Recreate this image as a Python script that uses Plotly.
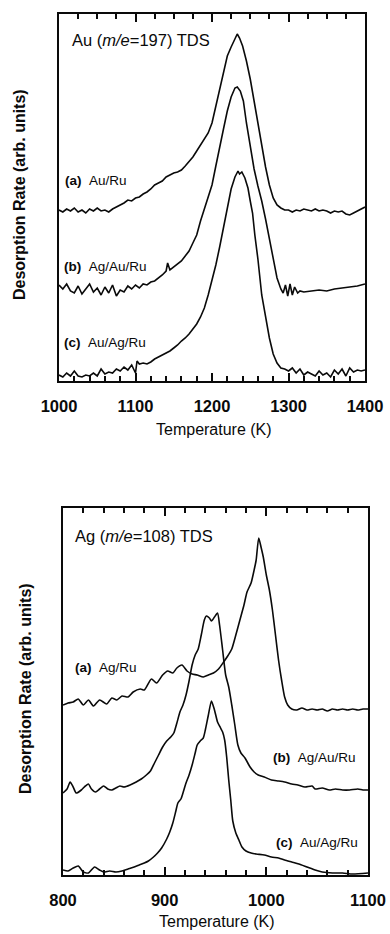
import plotly.graph_objects as go

# ---------------- Top panel: Au (m/e=197) TDS ----------------
au_a_T = [1000,1005,1010,1015,1020,1025,1030,1035,1040,1045,1050,1055,1060,1065,1070,1075,1080,1085,1090,1095,
          1100,1105,1110,1115,1120,1125,1130,1135,1140,1145,1150,1155,1160,1165,1170,1175,1180,1185,1190,1195,
          1200,1205,1210,1215,1220,1225,1230,1233,1236,1240,1245,1250,1255,1260,1265,1270,1275,1280,1285,1290,
          1295,1300,1305,1310,1315,1320,1325,1330,1335,1340,1345,1350,1355,1360,1365,1370,1375,1380,1385,1390,1395,1400]
au_a_v = [171,169,172,170,173,169,171,168,172,170,173,170,171,169,172,174,176,178,181,180,
          183,184,187,189,192,196,198,200,204,206,208,209,211,215,219,224,230,236,242,248,
          258,275,293,311,325,334,343,347,343,335,320,302,280,258,234,214,196,183,176,173,
          171,171,169,171,170,172,171,170,172,170,171,170,168,170,169,170,167,166,168,170,172,174]

au_b_T = [1000,1005,1010,1015,1020,1025,1030,1035,1040,1045,1050,1055,1060,1065,1070,1075,1080,1085,1090,1095,
          1100,1105,1110,1115,1120,1125,1130,1135,1140,1142,1145,1150,1155,1160,1165,1170,1175,1180,1185,1190,
          1195,1200,1205,1210,1215,1220,1225,1230,1233,1237,1241,1245,1250,1255,1260,1265,1270,1275,1280,1285,
          1290,1293,1296,1299,1302,1305,1308,1312,1315,1320,1330,1340,1350,1360,1370,1380,1390,1400]
au_b_v = [96,92,97,90,88,95,87,92,97,89,93,86,94,88,96,85,91,89,95,92,
          96,93,97,96,99,100,103,106,110,118,111,114,117,120,125,130,138,146,160,172,
          183,196,215,235,252,270,284,293,294,290,280,258,235,212,195,180,162,142,120,103,
          92,88,96,85,97,86,94,88,90,89,90,91,90,92,93,94,95,97]

au_c_T = [1000,1005,1010,1015,1020,1025,1030,1035,1040,1045,1050,1055,1060,1065,1070,1075,1080,1085,1090,1095,
          1100,1102,1105,1110,1115,1120,1125,1130,1135,1140,1145,1150,1155,1160,1165,1170,1175,1180,1185,1190,
          1195,1200,1205,1210,1215,1220,1225,1230,1234,1236,1239,1243,1247,1250,1253,1256,1260,1265,1270,1275,
          1280,1285,1290,1295,1300,1305,1310,1315,1320,1325,1330,1335,1340,1345,1350,1355,1360,1365,1370,1375,
          1380,1385,1390,1395,1400]
au_c_v = [6,4,8,5,10,5,4,6,5,8,5,12,7,9,8,12,10,14,11,16,
          8,20,17,18,17,19,22,24,26,28,30,33,36,40,43,47,52,57,64,73,
          86,100,116,134,153,173,192,204,210,207,209,203,193,180,168,146,122,86,63,43,
          27,18,13,12,10,13,8,12,6,9,7,5,10,6,8,4,11,7,12,5,
          13,9,11,10,11]

# ---------------- Bottom panel: Ag (m/e=108) TDS ----------------
ag_a_T = [800,805,810,815,820,825,830,836,843,848,853,858,864,869,876,880,887,892,898,903,
          908,912,917,922,927,932,938,943,948,953,958,962,966,970,974,978,981,985,988,990,
          992.5,995,997,1000,1003,1006,1009,1012,1015,1018,1021,1025,1030,1035,1040,1045,1050,1055,1060,1065,
          1070,1075,1080,1085,1090,1095,1100]
ag_a_v = [170,172,173,176,170,175,169,175,171,177,175,179,178,183,186,185,196,192,200,204,
          202,207,210,204,201,200,198,200,202,206,213,219,226,240,255,270,283,292,305,315,
          337,327,318,300,285,265,240,215,195,178,170,166,165,167,165,166,165,166,164,166,
          165,166,165,166,165,166,166]

ag_b_T = [800,804,807,810,813,818,822,825,828,832,836,840,844,848,852,856,860,866,872,877,
          882,886,890,894,898,902,906,909,912,915,918,921,924,927,930,933,936,939,941,944,
          946,949,952,954,957,960,963,966,969,972,975,979,984,988,992,998,1005,1012,1018,1025,
          1031,1038,1045,1048,1055,1062,1068,1075,1082,1090,1095,1100]
ag_b_v = [82,86,93,88,82,85,89,91,86,83,86,89,86,85,87,89,88,90,93,96,
          100,104,112,120,128,134,138,142,152,163,170,180,194,210,220,226,240,255,259,257,
          254,258,262,250,225,200,188,170,150,130,122,117,108,103,100,98,95,94,93,91,
          90,88,89,86,87,85,86,85,85,86,85,85]

ag_c_T = [800,805,810,815,820,825,831,836,840,846,852,858,864,870,875,880,884,889,893,897,
          902,905,908,911,913,916,918,921,924,927,930,932,935,938,940,943,946,949,952,955,
          957,959,961,963,965,967,970,973,976,980,985,990,998,1005,1012,1018,1025,1032,1040,1048,
          1055,1065,1075,1085,1100]
ag_c_v = [5,4,7,9,3,2,8,5,3,4,3,4,6,8,10,12,14,18,22,27,
          36,43,52,64,72,76,82,92,100,110,122,130,134,137,145,160,174,165,153,147,
          143,135,118,95,75,54,42,35,28,24,22,21,20,18,17,15,13,11,8,5,
          3,2,2,1,2]

FONT = "Liberation Sans, Arial, sans-serif"
INK = "#0a0a0a"

fig = go.Figure()
for T, v in [(au_a_T, au_a_v), (au_b_T, au_b_v), (au_c_T, au_c_v)]:
    fig.add_trace(go.Scatter(x=T, y=v, mode="lines", line=dict(color=INK, width=1.6),
                             xaxis="x", yaxis="y", showlegend=False, hoverinfo="skip"))
for T, v in [(ag_a_T, ag_a_v), (ag_b_T, ag_b_v), (ag_c_T, ag_c_v)]:
    fig.add_trace(go.Scatter(x=T, y=v, mode="lines",
                             line=dict(color=INK, width=1.6, shape="spline", smoothing=0.6),
                             xaxis="x2", yaxis="y2", showlegend=False, hoverinfo="skip"))
# invisible traces hosting the tick-only overlay axes
for xa, ya, x0 in [("x3", "y", 1000), ("x4", "y", 1000), ("x5", "y2", 800)]:
    fig.add_trace(go.Scatter(x=[x0], y=[0], mode="lines", xaxis=xa, yaxis=ya,
                             showlegend=False, hoverinfo="skip"))

W, H = 390, 934
dom_x1 = [59 / W, 365 / W]
dom_y1 = [1 - 381 / H, 1 - 14 / H]
dom_x2 = [63 / W, 368 / W]
dom_y2 = [1 - 875 / H, 1 - 508 / H]

tickfont = dict(family=FONT, size=16.5, color=INK, weight="bold")

label_x = dict(showline=True, linewidth=2, linecolor=INK, mirror=True, ticks="outside", ticklen=9,
               tickcolor="rgba(0,0,0,0)", showgrid=False, tickfont=tickfont, dtick=100)
def tick_axis(color):
    return dict(showline=False, ticks="inside", ticklen=8, tickwidth=2, tickcolor=color, dtick=100,
                showticklabels=False, showgrid=False)
def minor_st(color, dt):
    return dict(ticks="inside", ticklen=5, tickwidth=1.5, tickcolor=color, dtick=dt)
common_y = dict(showline=True, linewidth=2, linecolor=INK, mirror=True, ticks="",
                showticklabels=False, showgrid=False, range=[0, 367])

fig.update_layout(
    width=W, height=H, margin=dict(l=0, r=0, t=0, b=0, autoexpand=False),
    plot_bgcolor="white",
    xaxis=dict(label_x, domain=dom_x1, range=[1000, 1400], anchor="y"),
    xaxis3=dict(tick_axis(INK), domain=dom_x1, range=[1000, 1400], overlaying="x", side="bottom",
                anchor="y", minor=minor_st(INK, 20)),
    xaxis4=dict(tick_axis(INK), domain=dom_x1, range=[1000, 1400], overlaying="x", side="top",
                anchor="y", minor=minor_st(INK, 25)),
    yaxis=dict(common_y, domain=dom_y1, anchor="x"),
    xaxis2=dict(label_x, domain=dom_x2, range=[800, 1100], anchor="y2"),
    xaxis5=dict(tick_axis(INK), domain=dom_x2, range=[800, 1100], overlaying="x2", side="bottom",
                anchor="y2", mirror="ticks", minor=minor_st(INK, 20)),
    yaxis2=dict(common_y, domain=dom_y2, anchor="x2"),
)

ann = []
def label(text, x, y, xref, yref, size=13.5, xanchor="left"):
    ann.append(dict(text=text, x=x, y=y, xref=xref, yref=yref, showarrow=False,
                    xanchor=xanchor, yanchor="middle", font=dict(family=FONT, size=size, color=INK)))

NB = "\u00a0\u00a0"
label("Au (<i>m/e</i>=197) TDS", 1014, 341, "x", "y", size=16.5)
label("<b>(a)</b>" + NB + "Au/Ru", 1005, 201, "x", "y")
label("<b>(b)</b>" + NB + "Ag/Au/Ru", 1004, 115, "x", "y")
label("<b>(c)</b>" + NB + "Au/Ag/Ru", 1004, 39, "x", "y")

label("Ag (<i>m/e</i>=108) TDS", 810, 339, "x2", "y2", size=16.5)
label("<b>(a)</b>" + NB + "Ag/Ru", 810, 208, "x2", "y2")
label("<b>(b)</b>" + NB + "Ag/Au/Ru", 1090, 118, "x2", "y2", xanchor="right")
label("<b>(c)</b>" + NB + "Au/Ag/Ru", 1092, 33, "x2", "y2", xanchor="right")

def paper_text(text, px, py, size, angle=0):
    ann.append(dict(text=text, x=px / W, y=1 - py / H, xref="paper", yref="paper",
                    showarrow=False, xanchor="center", yanchor="middle", textangle=angle,
                    font=dict(family=FONT, size=size, color=INK)))

paper_text("Temperature (K)", 214, 429, 16)
paper_text("Temperature (K)", 217, 921, 16)
paper_text("<b>Desorption Rate (arb. units)</b>", 19, 195, 16, -90)
paper_text("<b>Desorption Rate (arb. units)</b>", 25, 689, 16, -90)
fig.update_layout(annotations=ann)

fig.write_html("out.html")
